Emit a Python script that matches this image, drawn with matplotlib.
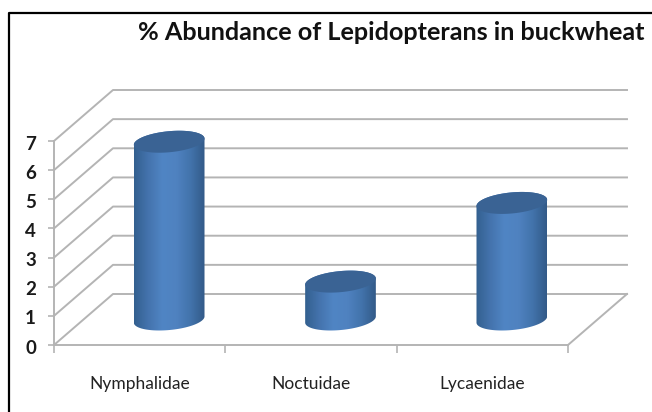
import numpy as np
import matplotlib
matplotlib.use('Agg')
import matplotlib.pyplot as plt
from matplotlib.colors import LinearSegmentedColormap
from matplotlib.lines import Line2D
from matplotlib.patches import Polygon
from matplotlib.transforms import ScaledTranslation

families = ['Nymphalidae', 'Noctuidae', 'Lycaenidae']
abundance = [6.1, 1.3, 4.0]
yticks = [0, 1, 2, 3, 4, 5, 6, 7]

W, H = 652, 412
plt.rcParams['font.family'] = ['Lato', 'DejaVu Sans']

fig = plt.figure(figsize=(W / 100, H / 100), dpi=100)
ax = fig.add_axes([54 / W, (H - 345) / H, 514 / W, 204 / H])
ax.set_xlim(0, 3)
ax.set_ylim(0, 7)

# pixel sizes to data units, the chart is a sheared 3d box
sx = 514 / 3
sy = 204 / 7
depth_x = 59 / sx
depth_y = 51 / sy

grey = '#b4b4b4'
for v in yticks:
    ax.plot([0, depth_x, 3 + depth_x], [v, v + depth_y, v + depth_y],
            color=grey, lw=1.4, clip_on=False, zorder=1)
ax.plot([3, 3 + depth_x], [0, depth_y], color=grey, lw=1.4, clip_on=False, zorder=1)

cmap = LinearSegmentedColormap.from_list(
    'cyl', ['#33608f', '#4473ad', '#5085c4', '#4f82c0', '#4273ab', '#335a88'])
grad = np.linspace(0, 1, 256).reshape(1, -1)

half_w = 35.5
half_h = 10.5
tilt = np.radians(5.5)


def ellipse(cx, cy, a):
    # centre in data units, result in data units, rotated in pixel space
    px = half_w * np.cos(a)
    py = half_h * np.sin(a)
    xs = px * np.cos(tilt) - py * np.sin(tilt)
    ys = px * np.sin(tilt) + py * np.cos(tilt)
    return cx + xs / sx, cy + ys / sy


for i, val in enumerate(abundance):
    cx = i + 0.5 + depth_x / 2
    cy = depth_y / 2
    a_low = np.linspace(np.pi, 2 * np.pi, 60)
    a_top = np.linspace(0, np.pi, 60)
    bx, by = ellipse(cx, cy, a_low)
    tx, ty = ellipse(cx, cy + val, a_top)
    body = Polygon(np.column_stack([np.r_[bx, tx], np.r_[by, ty]]),
                   closed=True, fc='none', ec='none', transform=ax.transData, zorder=3)
    ax.add_patch(body)
    im = ax.imshow(grad, cmap=cmap, aspect='auto', zorder=3,
                   extent=[cx - half_w / sx, cx + half_w / sx, 0, 8])
    im.set_clip_box(fig.bbox)
    im.set_clip_path(body)
    ex, ey = ellipse(cx, cy + val, np.linspace(0, 2 * np.pi, 120))
    ax.fill(ex, ey, color='#3a6394', lw=0, clip_on=False, zorder=4)

ax.set_xlim(0, 3)
ax.set_ylim(0, 7)

for s in ['top', 'right']:
    ax.spines[s].set_visible(False)
for s in ['left', 'bottom']:
    ax.spines[s].set_color(grey)
    ax.spines[s].set_linewidth(1.4)
ax.patch.set_visible(False)

ax.set_yticks(yticks)
ax.set_yticklabels([str(v) for v in yticks], fontsize=13.5, fontweight='bold', color='#1a1a1a')
ax.tick_params(axis='y', length=4, width=1.2, color=grey, pad=9)
# tick labels sit a little lower in the original
for lab in ax.get_yticklabels():
    lab.set_transform(lab.get_transform() + ScaledTranslation(0, -1.5 / 100, fig.dpi_scale_trans))
ax.set_xticks([0, 1, 2, 3])
ax.set_xticklabels([])
ax.set_xticks([0.5, 1.5, 2.5], minor=True)
ax.set_xticklabels(families, minor=True, fontsize=12.5, color='#222222')
ax.tick_params(axis='x', which='major', length=6, width=1.2, color=grey)
ax.tick_params(axis='x', which='minor', length=0, pad=22)

fig.text(391.5 / W, 1 - 32 / H, '% Abundance of Lepidopterans in buckwheat',
         ha='center', va='center', fontsize=18.2, fontweight='bold', color='#111111')

# black frame of the pasted picture, open at the bottom and right
fig.add_artist(Line2D([9 / W, 9 / W, 1], [0, 1 - 13 / H, 1 - 13 / H],
                      color='black', lw=1.6, transform=fig.transFigure))

fig.savefig('out.png', dpi=100)
